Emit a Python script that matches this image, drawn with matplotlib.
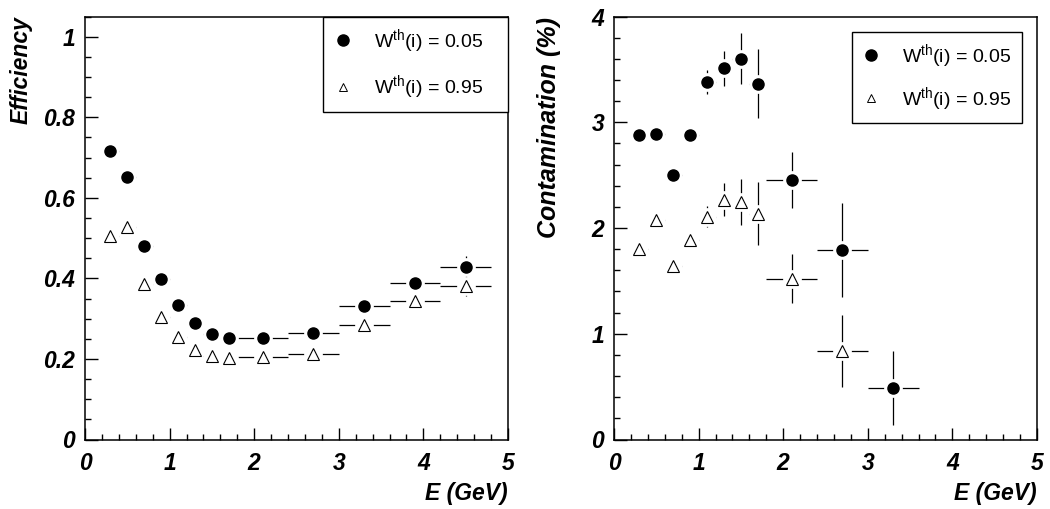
import matplotlib
matplotlib.use("Agg")
import matplotlib.pyplot as plt
from matplotlib.lines import Line2D
from matplotlib.ticker import MultipleLocator, FuncFormatter
import numpy as np

# ---------------- data ----------------
e_centers = [0.3, 0.5, 0.7, 0.9, 1.1, 1.3, 1.5, 1.7, 2.1, 2.7, 3.3, 3.9, 4.5]
e_halfwidth = [0.1, 0.1, 0.1, 0.1, 0.1, 0.1, 0.1, 0.1, 0.3, 0.3, 0.3, 0.3, 0.3]

eff_w005 = [0.717, 0.651, 0.480, 0.399, 0.335, 0.289, 0.262, 0.252, 0.252, 0.264, 0.331, 0.389, 0.428]
eff_w005_err = [0.006, 0.006, 0.006, 0.006, 0.006, 0.007, 0.008, 0.008, 0.008, 0.010, 0.014, 0.018, 0.027]
eff_w095 = [0.505, 0.527, 0.386, 0.305, 0.254, 0.222, 0.207, 0.202, 0.205, 0.212, 0.283, 0.345, 0.382]
eff_w095_err = [0.006, 0.006, 0.006, 0.006, 0.006, 0.007, 0.008, 0.008, 0.008, 0.010, 0.013, 0.017, 0.025]

con_x005 = [0.3, 0.5, 0.7, 0.9, 1.1, 1.3, 1.5, 1.7, 2.1, 2.7, 3.3]
con_x005_hw = [0.1, 0.1, 0.1, 0.1, 0.1, 0.1, 0.1, 0.1, 0.3, 0.3, 0.3]
con_w005 = [2.877, 2.886, 2.501, 2.877, 3.378, 3.511, 3.602, 3.366, 2.451, 1.792, 0.486]
con_w005_err = [0.05, 0.05, 0.05, 0.06, 0.115, 0.167, 0.24, 0.33, 0.265, 0.44, 0.35]

con_x095 = [0.3, 0.5, 0.7, 0.9, 1.1, 1.3, 1.5, 1.7, 2.1, 2.7]
con_x095_hw = [0.1, 0.1, 0.1, 0.1, 0.1, 0.1, 0.1, 0.1, 0.3, 0.3]
con_w095 = [1.801, 2.079, 1.637, 1.886, 2.107, 2.268, 2.246, 2.135, 1.520, 0.833]
con_w095_err = [0.04, 0.05, 0.04, 0.05, 0.10, 0.155, 0.22, 0.30, 0.233, 0.34]

labels = [r"W$^{\mathrm{th}}$(i) = 0.05", r"W$^{\mathrm{th}}$(i) = 0.95"]

# ---------------- style ----------------
plt.rcParams["font.family"] = ["Liberation Sans", "DejaVu Sans"]
plt.rcParams["mathtext.fontset"] = "custom"
plt.rcParams["mathtext.rm"] = "Liberation Sans"
plt.rcParams["mathtext.it"] = "Liberation Sans:italic"
plt.rcParams["mathtext.bf"] = "Liberation Sans:bold"

FS = 16.5
BOLD_IT = dict(fontweight="bold", fontstyle="italic", family="Liberation Sans")

fig = plt.figure(figsize=(10.5, 5.09), dpi=100)
ax1 = fig.add_axes([85 / 1050, (509 - 439.5) / 509, 423 / 1050, 423 / 509])
ax2 = fig.add_axes([614 / 1050, (509 - 439.5) / 509, 423 / 1050, 423 / 509])

DOT_MS = 8.0
TRI_MS = 8.2
GAP_MS = 13.5


def draw_series(ax, x, xerr, y, yerr, marker):
    ax.errorbar(x, y, xerr=xerr, yerr=yerr, fmt="none", ecolor="black",
                elinewidth=0.9, capsize=0, zorder=2)
    ax.plot(x, y, "o", ms=GAP_MS, mfc="white", mec="none", zorder=3)
    if marker == "o":
        ax.plot(x, y, "o", ms=DOT_MS, mfc="black", mec="black", zorder=4)
    else:
        ax.plot(x, y, "^", ms=TRI_MS, mfc="white", mec="black", mew=0.8, zorder=4)


def style_axes(ax, ylim, ymaj, ymin, ylabel, ylabel_fs):
    ax.set_xlim(0, 5)
    ax.set_ylim(*ylim)
    ax.xaxis.set_major_locator(MultipleLocator(1))
    ax.xaxis.set_minor_locator(MultipleLocator(0.2))
    ax.yaxis.set_major_locator(MultipleLocator(ymaj))
    ax.yaxis.set_minor_locator(MultipleLocator(ymin))
    fmt = FuncFormatter(lambda v, p: "%g" % round(v, 6))
    ax.xaxis.set_major_formatter(fmt)
    ax.yaxis.set_major_formatter(fmt)
    ax.tick_params(which="both", direction="in", top=False, right=False,
                   width=1.0, colors="black")
    ax.tick_params(which="major", length=9)
    ax.tick_params(which="minor", length=4.5)
    ax.tick_params(axis="y", which="major", pad=7)
    ax.tick_params(axis="x", which="major", pad=9)
    for lab in ax.get_xticklabels() + ax.get_yticklabels():
        lab.set_fontsize(FS)
        lab.set_fontweight("bold")
        lab.set_fontstyle("italic")
    for sp in ax.spines.values():
        sp.set_linewidth(1.1)
        sp.set_color("black")
    ax.set_xlabel("E (GeV)", loc="right", fontsize=FS, **BOLD_IT)
    ax.xaxis.set_label_coords(1.0, -0.1)
    ax.set_ylabel(ylabel, loc="top", fontsize=ylabel_fs, **BOLD_IT)
    ax.yaxis.set_label_coords(-0.125, 1.0)


def add_legend(ax, x0, top, w, h, borderpad, labelspacing):
    handles = [
        Line2D([], [], ls="none", marker="o", ms=DOT_MS, mfc="black", mec="black"),
        Line2D([], [], ls="none", marker="^", ms=6.0, mfc="white", mec="black", mew=0.7),
    ]
    leg = ax.legend(handles, labels, loc="upper left",
                    bbox_to_anchor=(x0, top - h, w, h), mode="expand",
                    borderaxespad=0, fontsize=14, frameon=True, fancybox=False,
                    edgecolor="black", framealpha=1, borderpad=borderpad,
                    handlelength=1.0, handletextpad=1.05, labelspacing=labelspacing)
    leg.get_frame().set_linewidth(1.0)
    leg.set_zorder(10)
    return leg


# ---------------- left panel ----------------
draw_series(ax1, e_centers, e_halfwidth, eff_w005, eff_w005_err, "o")
draw_series(ax1, e_centers, e_halfwidth, eff_w095, eff_w095_err, "^")
style_axes(ax1, (0, 1.05), 0.2, 0.05, "Efficiency", 16.5)
add_legend(ax1, 0.5626, 1.0, 0.4374, 95 / 423, 0.55, 0.95)

# ---------------- right panel ----------------
draw_series(ax2, con_x005, con_x005_hw, con_w005, con_w005_err, "o")
draw_series(ax2, con_x095, con_x095_hw, con_w095, con_w095_err, "^")
style_axes(ax2, (0, 4), 1, 0.2, "Contamination (%)", 18)
add_legend(ax2, 0.5626, 1 - 15.5 / 423, 0.402, 90 / 423, 0.5, 0.8)

fig.savefig("out.png", dpi=100)
